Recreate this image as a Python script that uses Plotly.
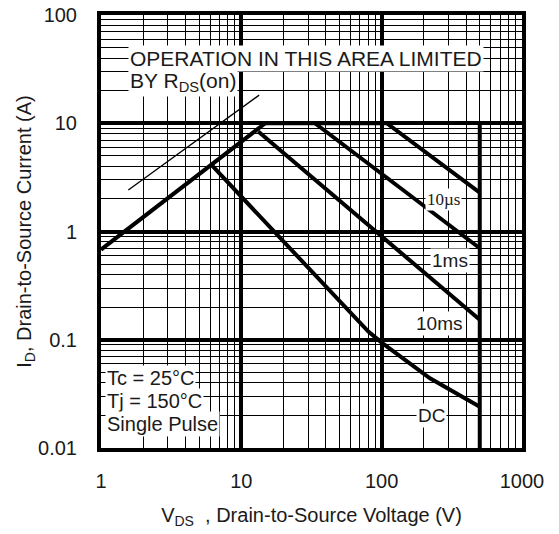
import plotly.graph_objects as go

# ---- data ----
rds_limit_v = [1.0, 14.8]
rds_limit_i = [0.68, 10.0]

us10_v = [14.8, 108.7, 500.0]
us10_i = [10.0, 10.0, 2.29]

ms1_v = [33.5, 500.0]
ms1_i = [10.0, 0.70]

ms10_v = [13.2, 500.0]
ms10_i = [8.4, 0.153]

dc_v = [6.15, 80.4, 100.0, 221.0, 500.0]
dc_i = [4.1, 0.119, 0.094, 0.044, 0.024]

vmax_v = [500.0, 500.0]
vmax_i = [0.01, 10.0]

rds_thin_v = [1.566, 13.4]
rds_thin_i = [2.42, 18.2]

x_ticks = [1, 10, 100, 1000]
x_ticktext = ["1", "10", "100", "1000"]
y_ticks = [0.01, 0.1, 1, 10, 100]
y_ticktext = ["0.01", "0.1", "1", "10", "100"]

x_minor = [m * 10 ** e for e in range(0, 3) for m in range(2, 10)]
y_minor = [m * 10.0 ** e for e in range(-2, 2) for m in range(2, 10)]

FONT = "Liberation Sans, Arial, sans-serif"
TXT = "#1a1a1a"

fig = go.Figure()
thick = dict(color="black", width=4)
for xs, ys in [(rds_limit_v, rds_limit_i), (us10_v, us10_i), (ms1_v, ms1_i),
               (ms10_v, ms10_i), (dc_v, dc_i), (vmax_v, vmax_i)]:
    fig.add_trace(go.Scatter(x=xs, y=ys, mode="lines", line=thick,
                             showlegend=False, hoverinfo="skip"))
fig.add_trace(go.Scatter(x=rds_thin_v, y=rds_thin_i, mode="lines",
                         line=dict(color="black", width=1.3),
                         showlegend=False, hoverinfo="skip"))

# page body adds an 8px margin; size the figure so it fits the window
OFF = 8
W, H = 559 - OFF, 534 - OFF
L, R, T, B = 101 - OFF, 37, 15 - OFF, 86
pw, ph = W - L - R, H - T - B


def px(xp):
    return (xp - OFF - L) / pw


def py(yp):
    return (H - B - (yp - OFF)) / ph


def ann(text, xp, yp, size, xanchor="left", yanchor="middle", family=FONT):
    fig.add_annotation(text=text, xref="paper", yref="paper", x=px(xp), y=py(yp),
                       xanchor=xanchor, yanchor=yanchor, showarrow=False,
                       bgcolor="white", borderpad=1, align="left",
                       font=dict(family=family, size=size, color=TXT))


ann("OPERATION IN THIS AREA LIMITED", 128, 58.5, 21)
ann("BY R<sub>DS</sub>(on)", 128, 67, 21, yanchor="top")
ann("Tc = 25°C", 105, 378, 20)
ann("Tj = 150°C", 105, 401, 20)
ann("Single Pulse", 105, 424, 20)
ann("10µs", 443, 199, 17, xanchor="center", family="Liberation Serif, Times New Roman, serif")
ann("1ms", 450, 260, 19, xanchor="center")
ann("10ms", 439, 323.5, 19, xanchor="center")
ann("DC", 431, 415, 19, xanchor="center")

axis_common = dict(
    type="log", showline=True, mirror=True, linewidth=4, linecolor="black",
    showgrid=True, gridcolor="black", gridwidth=3.5, zeroline=False,
    tickfont=dict(family=FONT, size=20, color=TXT),
    ticks="outside", tickcolor="rgba(0,0,0,0)", automargin=False,
    ticklabeloverflow="allow",
)

fig.update_xaxes(**axis_common, range=[0, 3], tickmode="array",
                 tickvals=x_ticks, ticktext=x_ticktext, ticklen=12,
                 minor=dict(tickvals=x_minor, showgrid=True, gridcolor="black",
                            gridwidth=1.2, ticks=""),
                 title=dict(text="V<sub>DS</sub>  , Drain-to-Source Voltage (V)",
                            font=dict(family=FONT, size=20, color=TXT), standoff=18))
fig.update_yaxes(**axis_common, range=[-2, 2], tickmode="array",
                 tickvals=y_ticks, ticktext=y_ticktext, ticklen=16,
                 minor=dict(tickvals=y_minor, showgrid=True, gridcolor="black",
                            gridwidth=1.2, ticks=""),
                 title=dict(text="I<sub>D</sub>, Drain-to-Source Current (A)",
                            font=dict(family=FONT, size=20, color=TXT), standoff=2))

fig.update_layout(width=W, height=H, margin=dict(l=L, r=R, t=T, b=B),
                  plot_bgcolor="white", paper_bgcolor="white", showlegend=False)

fig.write_html("out.html")
